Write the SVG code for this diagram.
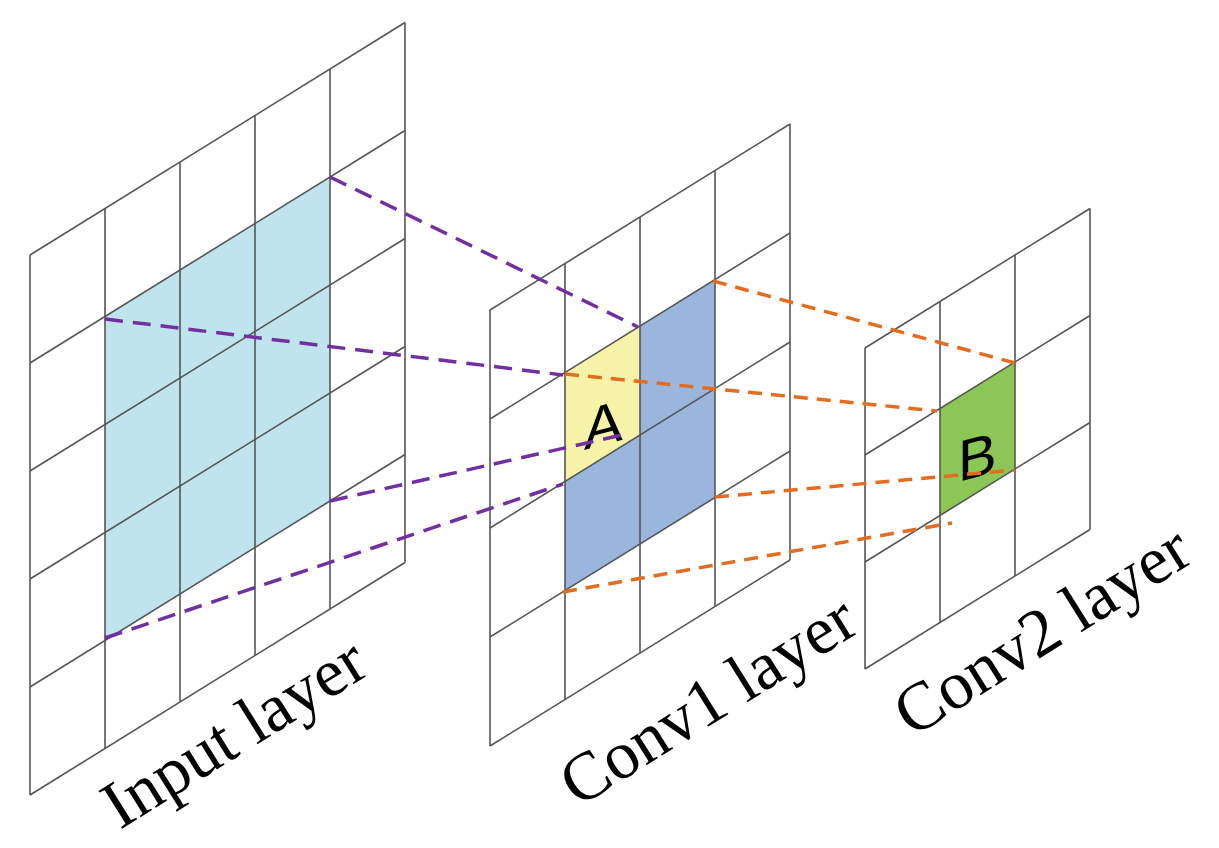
<svg xmlns="http://www.w3.org/2000/svg" width="1219" height="848" viewBox="0 0 1219 848">
<style>
.g{stroke:#555;stroke-width:1.6;fill:none}
.p{stroke:#7030a0;stroke-width:3.5;stroke-dasharray:18 10;fill:none}
.o{stroke:#e46c1f;stroke-width:3.5;stroke-dasharray:14 9;fill:none}
.lbl{font-family:"Liberation Serif",serif;font-size:68px;fill:#000}
.let{font-family:"Liberation Sans",sans-serif;font-size:58px;fill:#000}
</style>
<rect width="1219" height="848" fill="#fff"/>
<g id="input">
<polygon points="105,316.5 330,177 330,501 105,640.5" fill="#bfe4ee"/>
<g class="g">
<line x1="30" y1="255" x2="30" y2="795"/><line x1="105" y1="208.5" x2="105" y2="748.5"/><line x1="180" y1="162" x2="180" y2="702"/><line x1="255" y1="115.5" x2="255" y2="655.5"/><line x1="330" y1="69" x2="330" y2="609"/><line x1="405" y1="22.5" x2="405" y2="562.5"/>
<line x1="30" y1="255" x2="405" y2="22.5"/><line x1="30" y1="363" x2="405" y2="130.5"/><line x1="30" y1="471" x2="405" y2="238.5"/><line x1="30" y1="579" x2="405" y2="346.5"/><line x1="30" y1="687" x2="405" y2="454.5"/><line x1="30" y1="795" x2="405" y2="562.5"/>
</g>
<text class="lbl" transform="translate(120,830) rotate(-32)">Input layer</text>
</g>
<g id="conv1">
<polygon points="565,372.5 715,279.5 715,497.5 565,590.5" fill="#9ab6dc"/>
<polygon points="565,372.5 640,326 640,435 565,481.5" fill="#f6f3a8"/>
<g class="g">
<line x1="490" y1="310" x2="490" y2="746"/><line x1="565" y1="263.5" x2="565" y2="699.5"/><line x1="640" y1="217" x2="640" y2="653"/><line x1="715" y1="170.5" x2="715" y2="606.5"/><line x1="790" y1="124" x2="790" y2="560"/>
<line x1="490" y1="310" x2="790" y2="124"/><line x1="490" y1="419" x2="790" y2="233"/><line x1="490" y1="528" x2="790" y2="342"/><line x1="490" y1="637" x2="790" y2="451"/><line x1="490" y1="746" x2="790" y2="560"/>
</g>
<text class="let" transform="translate(584,450) skewY(-15)">A</text>
<text class="lbl" transform="translate(578,808) rotate(-32)">Conv1 layer</text>
</g>
<g id="conv2">
<polygon points="940,408.5 1015,362 1015,469 940,515.5" fill="#8cc654"/>
<g class="g">
<line x1="865" y1="348" x2="865" y2="669"/><line x1="940" y1="301.5" x2="940" y2="622.5"/><line x1="1015" y1="255" x2="1015" y2="576"/><line x1="1090" y1="208.5" x2="1090" y2="529.5"/>
<line x1="865" y1="348" x2="1090" y2="208.5"/><line x1="865" y1="455" x2="1090" y2="315.5"/><line x1="865" y1="562" x2="1090" y2="422.5"/><line x1="865" y1="669" x2="1090" y2="529.5"/>
</g>
<text class="let" transform="translate(958,482) skewY(-15)">B</text>
<text class="lbl" transform="translate(912,738) rotate(-32)">Conv2 layer</text>
</g>
<g id="connectors">
<line class="p" x1="330" y1="177" x2="638" y2="327"/>
<line class="p" x1="105" y1="319" x2="563" y2="375"/>
<line class="p" x1="330" y1="501" x2="622" y2="435"/>
<line class="p" x1="105" y1="638" x2="563" y2="484"/>
<line class="o" x1="713" y1="281" x2="1015" y2="363"/>
<line class="o" x1="565" y1="374" x2="937" y2="411"/>
<line class="o" x1="715" y1="497" x2="1015" y2="470"/>
<line class="o" x1="563" y1="592" x2="952" y2="523"/>
</g>
</svg>
